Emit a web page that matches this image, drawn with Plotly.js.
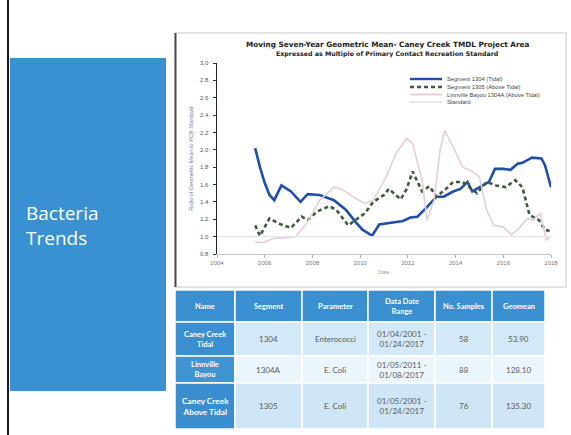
<!DOCTYPE html>
<html>
<head>
<meta charset="utf-8">
<script src="https://cdn.plot.ly/plotly-3.0.1.min.js"></script>
<style>html,body{margin:0;padding:0;background:#fff;}#chart{width:571px;height:435px;}</style>
</head>
<body>
<div id="chart"></div>
<script>
// ---- chart data ----
const tidalYears = [2005.6,2005.8,2006.0,2006.2,2006.4,2006.7,2007.1,2007.5,2007.8,2008.3,2008.9,2009.4,2009.8,2010.1,2010.5,2010.8,2011.3,2011.8,2012.1,2012.4,2012.8,2013.2,2013.5,2013.9,2014.2,2014.5,2014.7,2015.0,2015.4,2015.65,2016.0,2016.3,2016.6,2016.8,2017.2,2017.6,2017.75,2018.0];
const tidalValues = [2.02,1.80,1.62,1.48,1.42,1.59,1.52,1.40,1.49,1.48,1.42,1.31,1.17,1.08,1.01,1.14,1.16,1.18,1.22,1.23,1.34,1.46,1.46,1.52,1.55,1.63,1.52,1.57,1.63,1.78,1.78,1.77,1.84,1.85,1.91,1.90,1.82,1.57];

const aboveYears = [2005.6,2005.8,2006.2,2006.6,2007.1,2007.55,2007.8,2008.2,2008.7,2009.0,2009.5,2009.8,2010.2,2010.55,2011.0,2011.2,2011.7,2011.95,2012.2,2012.6,2012.9,2013.2,2013.6,2013.9,2014.3,2014.9,2015.3,2015.7,2016.1,2016.5,2016.8,2017.1,2017.5,2017.75,2018.0];
const aboveValues = [1.13,1.01,1.21,1.15,1.10,1.23,1.19,1.29,1.35,1.31,1.13,1.19,1.27,1.40,1.48,1.55,1.43,1.55,1.75,1.52,1.58,1.46,1.55,1.63,1.63,1.50,1.63,1.59,1.57,1.65,1.57,1.25,1.19,1.08,1.06];

const bayouYears = [2005.6,2005.9,2006.4,2007.3,2007.8,2008.3,2008.9,2009.2,2009.7,2010.2,2010.55,2011.1,2011.5,2011.95,2012.2,2012.6,2012.8,2013.1,2013.35,2013.55,2013.9,2014.3,2014.7,2015.0,2015.3,2015.6,2016.0,2016.35,2016.7,2017.0,2017.25,2017.55,2017.8,2018.05];
const bayouValues = [0.94,0.93,0.98,1.00,1.17,1.42,1.57,1.55,1.46,1.38,1.42,1.69,1.96,2.13,2.07,1.65,1.19,1.42,2.00,2.22,2.03,1.80,1.75,1.69,1.31,1.13,1.11,1.02,1.11,1.21,1.19,1.27,0.96,1.02];

const standardYears = [2004, 2018];
const standardValues = [1.0, 1.0];

const seriesNames = ["Segment 1304 (Tidal)", "Segment 1305 (Above Tidal)", "Linnville Bayou 1304A (Above Tidal)", "Standard"];

// ---- table data ----
const tableHeaders = ["Name", "Segment", "Parameter", "Data Date<br>Range", "No. Samples", "Geomean"];
const colName = ["Caney Creek<br>Tidal", "Linnville<br>Bayou", "Caney Creek<br>Above Tidal"];
const colSegment = ["1304", "1304A", "1305"];
const colParameter = ["Enterococci", "E. Coli", "E. Coli"];
const colRange = ["01/04/2001 -<br>01/24/2017", "01/05/2011 -<br>01/08/2017", "01/05/2001 -<br>01/24/2017"];
const colSamples = ["58", "88", "76"];
const colGeomean = ["53.90", "128.10", "135.30"];

// ---- layout helpers (pixel -> paper) ----
const W = 571, H = 435;
const X = p => p / W;
const Y = p => 1 - p / H;

const colors = ['#1f4fae', '#3f5b3c', '#e9cdd2', '#e6e6e6'];
const widths = [2.6, 2.6, 1.6, 1.2];
const dashes = ['solid', '4px,3px', 'solid', 'solid'];

const traces = [
  {x: tidalYears, y: tidalValues, name: seriesNames[0]},
  {x: aboveYears, y: aboveValues, name: seriesNames[1]},
  {x: bayouYears, y: bayouValues, name: seriesNames[2]},
  {x: standardYears, y: standardValues, name: seriesNames[3]}
].map((t, i) => Object.assign(t, {type: 'scatter', mode: 'lines', showlegend: false,
  line: {color: colors[i], width: widths[i], dash: dashes[i]}}));

const shapes = [
  {type: 'line', xref: 'paper', yref: 'paper', x0: X(8), x1: X(8), y0: 0, y1: 1,
   line: {color: '#1a1a1a', width: 2}, layer: 'below'},
  {type: 'rect', xref: 'paper', yref: 'paper', x0: X(10), x1: X(166), y0: Y(391), y1: Y(58),
   fillcolor: '#3a91d1', line: {width: 0}, layer: 'below'},
  {type: 'rect', xref: 'paper', yref: 'paper', x0: X(175), x1: X(566), y0: Y(287), y1: Y(33),
   fillcolor: '#ffffff', line: {color: '#c8c8c8', width: 1}, layer: 'below'},
  {type: 'line', xref: 'paper', yref: 'paper', x0: X(175.5), x1: X(175.5), y0: Y(287), y1: Y(33),
   line: {color: '#4a4a4a', width: 2}, layer: 'below'}
];

const annotations = [
  {x: X(24), y: Y(213), text: 'Bacteria', xanchor: 'left',
   font: {family: 'Open Sans, Noto Sans, sans-serif', size: 19, color: '#ffffff'}},
  {x: X(24), y: Y(238), text: 'Trends', xanchor: 'left',
   font: {family: 'Open Sans, Noto Sans, sans-serif', size: 19, color: '#ffffff'}},
  {x: X(387), y: Y(44.5), text: 'Moving Seven-Year Geometric Mean- Caney Creek TMDL Project Area',
   font: {family: 'DejaVu Sans, sans-serif', size: 7.3, color: '#222222', weight: 'bold'}},
  {x: X(387), y: Y(54), text: 'Expressed as Multiple of Primary Contact Recreation Standard',
   font: {family: 'DejaVu Sans, sans-serif', size: 6.3, color: '#222222', weight: 'bold'}}
];

// ---- custom compact legend ----
const legendY = [79, 87, 94.5, 102];
seriesNames.forEach((nm, i) => {
  shapes.push({type: 'line', xref: 'paper', yref: 'paper', x0: X(410), x1: X(442),
    y0: Y(legendY[i]), y1: Y(legendY[i]),
    line: {color: colors[i], width: i < 2 ? 2.4 : 2, dash: dashes[i]}});
  annotations.push({x: X(445), y: Y(legendY[i]), text: nm, xanchor: 'left',
    font: {family: 'Liberation Sans, Arial, sans-serif', size: 5.8, color: '#444444'}});
});

// ---- table drawn from the arrays ----
const colEdges = [175, 235, 302, 368, 435, 492, 545];
const rowEdges = [290, 322, 356, 383, 429];
const columns = [colName, colSegment, colParameter, colRange, colSamples, colGeomean];
const rowFill = ['#d4e9f7', '#eaf5fc', '#cfe6f6'];
const nameFill = ['#3b8fd0', '#4094d2', '#3a8ed0'];
const nameSize = [7.5, 7.5, 8.3];
const tFont = 'Lato, Open Sans, sans-serif';
for (let c = 0; c < tableHeaders.length; c++) {
  const x0 = colEdges[c], x1 = colEdges[c + 1];
  shapes.push({type: 'rect', xref: 'paper', yref: 'paper', x0: X(x0), x1: X(x1),
    y0: Y(rowEdges[1]), y1: Y(rowEdges[0]), fillcolor: '#3a8fd0',
    line: {color: '#ffffff', width: 1.5}});
  annotations.push({x: X((x0 + x1) / 2), y: Y((rowEdges[0] + rowEdges[1]) / 2),
    text: tableHeaders[c],
    font: {family: tFont, size: 7.5, color: '#ffffff', weight: 'bold'}});
  for (let r = 0; r < 3; r++) {
    const y0 = rowEdges[r + 1], y1 = rowEdges[r + 2];
    shapes.push({type: 'rect', xref: 'paper', yref: 'paper', x0: X(x0), x1: X(x1),
      y0: Y(y1), y1: Y(y0), fillcolor: c === 0 ? nameFill[r] : rowFill[r],
      line: {color: '#ffffff', width: 1.5}});
    annotations.push({x: X((x0 + x1) / 2), y: Y((y0 + y1) / 2), text: columns[c][r],
      font: {family: tFont, size: c === 0 ? nameSize[r] : 8, color: c === 0 ? '#ffffff' : '#5a5a5a',
             weight: c === 0 ? 'bold' : 'normal'}});
  }
}
annotations.forEach(a => Object.assign(a, {xref: 'paper', yref: 'paper', showarrow: false,
  yanchor: 'middle', xanchor: a.xanchor || 'center'}));

const layout = {
  width: W, height: H,
  margin: {l: 0, r: 0, t: 0, b: 0},
  paper_bgcolor: '#ffffff', plot_bgcolor: 'rgba(0,0,0,0)',
  showlegend: false,
  font: {family: 'Liberation Sans, Arial, sans-serif'},
  xaxis: {domain: [X(217), X(551)], range: [2004, 2018], tick0: 2004, dtick: 2,
    showgrid: false, zeroline: false, showline: true, linecolor: '#c4c4c4', linewidth: 1,
    ticks: 'outside', ticklen: 3, tickcolor: '#b0b0b0',
    tickfont: {size: 6, color: '#777777'},
    title: {text: 'Date', font: {size: 5.5, color: '#999999'}, standoff: 4}},
  yaxis: {domain: [Y(254), Y(63)], range: [0.8, 3.0], dtick: 0.2, tick0: 0.8,
    tickformat: '.1f',
    showgrid: false, zeroline: false, showline: true, linecolor: '#222222', linewidth: 1.5,
    ticks: 'outside', ticklen: 3, tickcolor: '#333333', ticklabelstandoff: 3,
    tickfont: {size: 6, color: '#555555'},
    title: {text: 'Ratio of Geometric Mean to PCR Standard', font: {size: 5.5, color: '#6a7ea6'}, standoff: 6}},
  shapes: shapes,
  annotations: annotations
};

Plotly.newPlot('chart', traces, layout, {displayModeBar: false, staticPlot: true});
</script>
</body>
</html>
